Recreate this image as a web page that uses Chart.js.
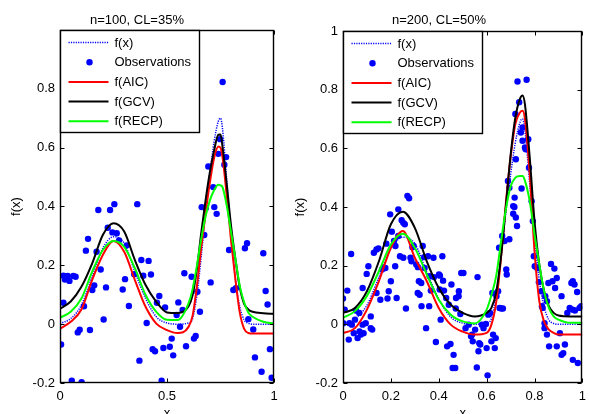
<!DOCTYPE html>
<html><head><meta charset="utf-8">
<script src="https://cdn.jsdelivr.net/npm/chart.js@4/dist/chart.umd.min.js"></script>
<style>
html,body{margin:0;padding:0;background:#fff;overflow:hidden;width:590px;height:414px;}
#wL{position:absolute;left:0;top:0;width:290px;height:430px;}
#wR{position:absolute;left:290px;top:0;width:302px;height:430px;}
canvas{display:block;}
</style></head><body>
<div id="wL"><canvas id="cL" width="290" height="430"></canvas></div>
<div id="wR"><canvas id="cR" width="302" height="430"></canvas></div>
<script>
// ---------- data ----------
const seriesLabels = ['f(x)', 'Observations', 'f(AIC)', 'f(GCV)', 'f(RECP)'];
const titleLeft = 'n=100, CL=35%';
const titleRight = 'n=200, CL=50%';
const yTicks = [-0.2, 0, 0.2, 0.4, 0.6, 0.8, 1];
const xTicksLeft = [0, 0.5, 1];
const xTicksRight = [0, 0.2, 0.4, 0.6, 0.8, 1];

const xGrid = [0, 0.05, 0.1, 0.15, 0.2, 0.25, 0.3, 0.35, 0.4, 0.45, 0.5, 0.55, 0.6, 0.62, 0.64, 0.66, 0.68, 0.7, 0.72, 0.74, 0.75, 0.76, 0.78, 0.8, 0.82, 0.84, 0.86, 0.88, 0.9, 0.95, 1];
const fTrue = [0.002, 0.019, 0.065, 0.161, 0.258, 0.297, 0.275, 0.178, 0.087, 0.025, 0.004, 0.0, 0.004, 0.02, 0.10, 0.23, 0.38, 0.51, 0.62, 0.69, 0.70, 0.66, 0.48, 0.30, 0.15, 0.06, 0.015, 0.003, 0, 0, 0];

const leftAIC  = [-0.015, 0.008, 0.05, 0.15, 0.235, 0.283, 0.246, 0.15, 0.059, 0.002, -0.02, -0.03, -0.01, 0.03, 0.13, 0.26, 0.375, 0.48, 0.565, 0.604, 0.60, 0.565, 0.43, 0.28, 0.15, 0.04, -0.015, -0.03, -0.032, -0.032, -0.032];
const leftGCV  = [0.053, 0.077, 0.127, 0.206, 0.303, 0.343, 0.315, 0.218, 0.133, 0.076, 0.040, 0.038, 0.060, 0.10, 0.19, 0.31, 0.42, 0.515, 0.59, 0.644, 0.645, 0.60, 0.47, 0.33, 0.22, 0.125, 0.07, 0.05, 0.042, 0.037, 0.035];
const leftRECP = [0.022, 0.042, 0.087, 0.178, 0.252, 0.283, 0.263, 0.19, 0.099, 0.042, 0.015, 0.014, 0.07, 0.12, 0.20, 0.29, 0.366, 0.42, 0.455, 0.474, 0.472, 0.465, 0.40, 0.31, 0.22, 0.13, 0.075, 0.04, 0.025, 0.008, 0.002];

const rightAIC  = [-0.03, -0.013, 0.05, 0.147, 0.261, 0.318, 0.227, 0.147, 0.056, -0.001, -0.025, -0.035, -0.029, -0.001, 0.075, 0.227, 0.41, 0.569, 0.683, 0.723, 0.728, 0.70, 0.512, 0.25, 0.079, 0.01, -0.018, -0.029, -0.035, -0.035, -0.035];
const rightGCV  = [0.039, 0.056, 0.113, 0.215, 0.341, 0.384, 0.329, 0.215, 0.124, 0.067, 0.039, 0.027, 0.039, 0.056, 0.11, 0.23, 0.40, 0.575, 0.705, 0.77, 0.78, 0.75, 0.569, 0.352, 0.204, 0.113, 0.062, 0.039, 0.03, 0.027, 0.027];
const rightRECP = [0.022, 0.045, 0.097, 0.181, 0.272, 0.309, 0.261, 0.17, 0.084, 0.033, 0.01, 0.003, 0.05, 0.10, 0.165, 0.28, 0.39, 0.47, 0.50, 0.506, 0.506, 0.49, 0.42, 0.307, 0.204, 0.113, 0.056, 0.027, 0.016, 0.005, 0.005];

const leftObsX = [0.005, 0.016, 0.016, 0.023, 0.036, 0.044, 0.055, 0.062, 0.073, 0.083, 0.092, 0.101, 0.112, 0.121, 0.131, 0.14, 0.151, 0.16, 0.171, 0.179, 0.19, 0.204, 0.215, 0.223, 0.234, 0.245, 0.254, 0.265, 0.276, 0.293, 0.304, 0.312, 0.322, 0.347, 0.361, 0.371, 0.38, 0.389, 0.405, 0.414, 0.425, 0.433, 0.444, 0.453, 0.464, 0.475, 0.483, 0.491, 0.513, 0.522, 0.529, 0.545, 0.553, 0.561, 0.573, 0.581, 0.589, 0.615, 0.626, 0.634, 0.642, 0.654, 0.662, 0.674, 0.681, 0.693, 0.704, 0.716, 0.721, 0.732, 0.74, 0.748, 0.76, 0.768, 0.776, 0.79, 0.81, 0.822, 0.864, 0.874, 0.88, 0.903, 0.911, 0.942, 0.95, 0.961, 0.97, 0.981, 0.989];
const leftObsY = [-0.069, 0.073, 0.165, 0.152, 0.164, 0.147, -0.192, 0.164, 0.161, -0.028, -0.019, -0.197, 0.061, 0.25, 0.29, -0.02, 0.116, 0.132, 0.246, 0.388, 0.186, 0.016, 0.125, 0.328, 0.388, 0.312, 0.408, 0.309, 0.285, 0.118, 0.153, 0.268, 0.062, 0.17, 0.408, -0.124, 0.218, 0.165, 0.004, 0.215, 0.169, -0.085, -0.092, 0.073, 0.096, -0.192, -0.081, 0.057, -0.077, -0.049, -0.106, 0.031, 0.074, -0.009, 0.048, 0.173, -0.075, 0.161, -0.049, -0.04, 0.11, 0.042, 0.398, 0.303, 0.394, 0.536, 0.142, 0.466, 0.398, 0.375, 0.579, 0.629, 0.823, 0.542, 0.568, 0.252, 0.116, 0.122, 0.258, 0.275, 0.017, -0.018, -0.113, -0.162, 0.241, 0.113, 0.067, -0.085, -0.182];

const rightObsX = [0.0, 0.001, 0.007, 0.018, 0.024, 0.027, 0.034, 0.037, 0.045, 0.05, 0.054, 0.061, 0.068, 0.069, 0.075, 0.082, 0.082, 0.086, 0.095, 0.099, 0.106, 0.116, 0.116, 0.122, 0.129, 0.14, 0.14, 0.148, 0.156, 0.163, 0.17, 0.177, 0.181, 0.186, 0.191, 0.197, 0.2, 0.204, 0.213, 0.218, 0.219, 0.224, 0.231, 0.231, 0.238, 0.245, 0.252, 0.252, 0.258, 0.263, 0.269, 0.276, 0.282, 0.286, 0.29, 0.295, 0.306, 0.313, 0.312, 0.317, 0.32, 0.327, 0.328, 0.333, 0.339, 0.341, 0.347, 0.355, 0.36, 0.362, 0.367, 0.378, 0.38, 0.388, 0.401, 0.404, 0.405, 0.408, 0.415, 0.418, 0.422, 0.431, 0.435, 0.442, 0.449, 0.453, 0.458, 0.462, 0.469, 0.471, 0.472, 0.483, 0.484, 0.49, 0.494, 0.503, 0.512, 0.525, 0.535, 0.539, 0.542, 0.552, 0.559, 0.562, 0.566, 0.569, 0.573, 0.58, 0.587, 0.597, 0.6, 0.604, 0.607, 0.614, 0.62, 0.624, 0.627, 0.634, 0.638, 0.641, 0.648, 0.652, 0.654, 0.661, 0.665, 0.668, 0.675, 0.682, 0.684, 0.689, 0.695, 0.695, 0.711, 0.711, 0.716, 0.717, 0.72, 0.722, 0.722, 0.727, 0.729, 0.736, 0.743, 0.746, 0.75, 0.75, 0.76, 0.763, 0.767, 0.774, 0.777, 0.788, 0.793, 0.797, 0.801, 0.811, 0.818, 0.829, 0.831, 0.834, 0.842, 0.842, 0.845, 0.852, 0.852, 0.858, 0.861, 0.869, 0.875, 0.883, 0.886, 0.893, 0.893, 0.906, 0.913, 0.913, 0.92, 0.927, 0.937, 0.947, 0.954, 0.96, 0.96, 0.96, 0.967, 0.969, 0.978, 0.981, 0.988, 0.995];
const rightObsY = [0.088, 0.004, 0.05, 0.115, -0.052, 0.004, 0.24, -0.001, -0.03, 0.016, 0.047, -0.047, 0.039, -0.024, -0.035, -0.001, 0.124, -0.03, 0.004, 0.172, 0.198, -0.013, 0.027, -0.018, 0.244, 0.255, 0.107, 0.259, 0.084, 0.187, 0.192, 0.192, 0.275, 0.088, 0.113, 0.375, 0.147, 0.316, 0.284, 0.198, 0.267, 0.09, 0.392, 0.301, 0.232, 0.355, 0.346, 0.227, 0.341, 0.054, 0.438, 0.43, 0.227, 0.215, 0.263, 0.267, 0.204, 0.195, 0.107, 0.147, 0.101, 0.141, 0.062, 0.267, 0.229, 0.192, -0.013, 0.232, 0.062, 0.164, 0.115, 0.227, 0.161, -0.06, 0.17, 0.119, 0.166, 0.016, 0.232, 0.149, 0.115, 0.09, -0.075, 0.067, -0.067, 0.136, -0.149, -0.104, -0.149, 0.054, 0.09, 0.096, 0.113, 0.035, 0.175, 0.175, -0.013, -0.001, -0.041, -0.035, -0.058, -0.018, -0.147, 0.161, -0.092, -0.064, -0.069, -0.001, -0.013, 0.001, -0.081, -0.174, 0.033, 0.039, -0.058, 0.107, -0.035, -0.081, -0.047, 0.096, 0.113, 0.261, 0.056, 0.054, 0.301, 0.054, 0.284, 0.187, 0.17, 0.489, 0.29, 0.466, 0.377, 0.403, 0.4, 0.432, 0.717, 0.563, 0.364, 0.335, 0.828, 0.757, 0.654, 0.463, 0.671, 0.626, 0.603, 0.597, 0.834, 0.631, 0.534, 0.42, 0.352, 0.232, 0.198, 0.192, 0.144, 0.113, 0.062, 0.056, -0.013, 0.004, 0.096, 0.079, -0.035, 0.141, -0.075, 0.206, 0.147, 0.19, 0.124, 0.158, -0.075, -0.03, 0.096, -0.104, -0.098, -0.069, 0.039, 0.056, 0.141, 0.147, 0.05, -0.121, 0.136, 0.047, 0.11, -0.132, 0.056, 0.062];

// ---------- styles ----------
const FONT = '"Liberation Sans", Arial, Helvetica, sans-serif';
const BLUE = '#0000ff', RED = '#ff0000', BLACK = '#000000', GREEN = '#00ff00';
const fmt = v => String(Math.round(v * 10) / 10);
const pts = (xs, ys) => xs.map((x, i) => ({x: x, y: ys[i]}));

const framePlugin = {
  id: 'frame',
  afterDatasetsDraw(chart) {
    const {ctx, chartArea: a, scales} = chart;
    const xs = scales.x, ys = scales.y;
    ctx.save();
    ctx.strokeStyle = '#000';
    ctx.lineWidth = 1;
    const L = Math.round(a.left) + 0.5, R = Math.round(a.right) - 0.5;
    const T = Math.round(a.top) + 0.5, B = Math.round(a.bottom) - 0.5;
    const tl = 4;
    ctx.beginPath();
    xs.ticks.forEach(t => {
      const px = Math.round(xs.getPixelForValue(t.value)) + 0.5;
      ctx.moveTo(px, B); ctx.lineTo(px, B - tl);
      ctx.moveTo(px, T); ctx.lineTo(px, T + tl);
    });
    ys.ticks.forEach(t => {
      const py = Math.round(ys.getPixelForValue(t.value)) + 0.5;
      ctx.moveTo(L, py); ctx.lineTo(L + tl, py);
      ctx.moveTo(R, py); ctx.lineTo(R - tl, py);
    });
    ctx.stroke();
    ctx.lineWidth = 1.4;
    ctx.strokeRect(L, T, R - L, B - T);

    // legend box inside the axes, top-left
    const x0 = L, y0 = T, w = 139, h = 102;
    ctx.fillStyle = '#fff';
    ctx.fillRect(x0, y0, w, h);
    ctx.lineWidth = 1.4;
    ctx.strokeRect(x0, y0, w, h);
    ctx.font = '13px ' + FONT;
    ctx.textBaseline = 'middle';
    ctx.textAlign = 'left';
    chart.data.datasets.forEach((ds, i) => {
      const yy = y0 + 12 + i * 19.7;
      if (ds.showLine) {
        ctx.save();
        ctx.strokeStyle = ds.borderColor;
        ctx.lineWidth = ds.borderWidth;
        ctx.setLineDash(ds.borderDash || []);
        ctx.beginPath();
        ctx.moveTo(x0 + 8, yy); ctx.lineTo(x0 + 48, yy);
        ctx.stroke();
        ctx.restore();
      } else {
        ctx.fillStyle = ds.backgroundColor;
        ctx.beginPath();
        ctx.arc(x0 + 29, yy, ds.pointRadius, 0, Math.PI * 2);
        ctx.fill();
      }
      ctx.fillStyle = '#000';
      ctx.fillText(ds.label, x0 + 54, yy + 0.5);
    });
    ctx.restore();
  }
};

function makeChart(id, p) {
  const curve = (label, ys, color, width, dash, order) => ({
    label: label, data: pts(xGrid, ys), showLine: true, borderColor: color,
    backgroundColor: color, borderWidth: width, borderDash: dash, pointRadius: 0,
    cubicInterpolationMode: 'monotone', order: order
  });
  return new Chart(document.getElementById(id), {
    type: 'scatter',
    data: {
      datasets: [
        curve(seriesLabels[0], fTrue, BLUE, 1.5, [1.2, 1.2], 5),
        {label: seriesLabels[1], data: pts(p.obsX, p.obsY), showLine: false,
         pointRadius: 3.2, pointStyle: 'circle', backgroundColor: BLUE, borderWidth: 0, order: 4},
        curve(seriesLabels[2], p.aic, RED, 2, [], 3),
        curve(seriesLabels[3], p.gcv, BLACK, 2, [], 2),
        curve(seriesLabels[4], p.recp, GREEN, 2, [], 1)
      ]
    },
    options: {
      responsive: false, animation: false, devicePixelRatio: 1, events: [],
      layout: {padding: {left: 0, right: p.padRight, top: 0, bottom: 0}},
      plugins: {
        legend: {display: false}, tooltip: {enabled: false},
        title: {display: true, text: p.title, color: '#000',
                font: {family: FONT, size: 13, weight: 'normal'},
                padding: {top: 13, bottom: p.titleBottom}}
      },
      scales: {
        x: {
          type: 'linear', min: 0, max: 1,
          afterBuildTicks: s => { s.ticks = p.xTicks.map(v => ({value: v})); },
          ticks: {color: '#000', font: {family: FONT, size: 13}, padding: 6,
                  maxRotation: 0, autoSkip: false, callback: v => fmt(v)},
          grid: {display: false, drawTicks: false}, border: {display: false},
          title: {display: true, text: 'x', color: '#000', font: {family: FONT, size: 13},
                  padding: {top: 0, bottom: 9}},
          afterFit: s => { s.height = 47; }
        },
        y: {
          type: 'linear', min: -0.2, max: 1,
          afterBuildTicks: s => { s.ticks = yTicks.map(v => ({value: v})); },
          ticks: {color: '#000', font: {family: FONT, size: 13}, padding: 5,
                  autoSkip: false, callback: v => (p.hideTop && Math.abs(v - 1) < 1e-9) ? '' : fmt(v)},
          grid: {display: false, drawTicks: false}, border: {display: false},
          title: {display: true, text: 'f(x)', color: '#000', font: {family: FONT, size: 13},
                  padding: {top: p.yTitlePad, bottom: 0}},
          afterFit: s => { s.width = p.yWidth; }
        }
      }
    },
    plugins: [framePlugin]
  });
}

makeChart('cL', {title: titleLeft, obsX: leftObsX, obsY: leftObsY, aic: leftAIC, gcv: leftGCV, recp: leftRECP,
  xTicks: xTicksLeft, padRight: 16, titleBottom: 1.4, yWidth: 60, yTitlePad: 9, hideTop: true});
makeChart('cR', {title: titleRight, obsX: rightObsX, obsY: rightObsY, aic: rightAIC, gcv: rightGCV, recp: rightRECP,
  xTicks: xTicksRight, padRight: 4, titleBottom: 2.4, yWidth: 53, yTitlePad: 2.2, hideTop: false});
</script></body></html>
